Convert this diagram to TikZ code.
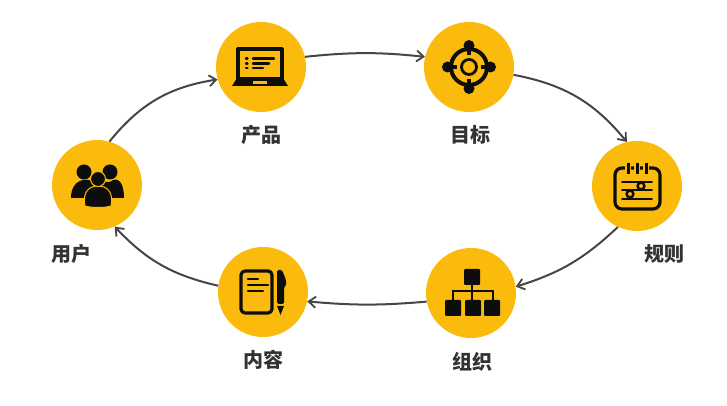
\documentclass[tikz,border=0pt]{standalone}
\usepackage{fontspec}
\newfontfamily\cjk{Noto Sans CJK SC}
\usepackage{xcolor}
\usetikzlibrary{arrows.meta}
\definecolor{discfill}{HTML}{FBBB0C}
\definecolor{inkline}{HTML}{454545}
\definecolor{labeltext}{HTML}{333333}
\definecolor{iconink}{HTML}{0D0D0D}

\begin{document}
\begin{tikzpicture}[
  x=1pt, y=1pt,
  disc/.style={circle, fill=discfill, minimum size=90pt, inner sep=0pt},
  lbl/.style={font=\cjk\bfseries\fontsize{20}{20}\selectfont, text=labeltext, inner sep=0pt},
  arr/.style={-{Straight Barb[length=7pt,width=11pt,line width=1.8pt]}, line width=2pt, draw=inkline},
  ink/.style={draw=iconink, line width=3.2pt, line cap=round, line join=round},
  stroke/.style={draw=iconink, line width=2.4pt, line cap=round},
  blk/.style={fill=iconink}
]
  \useasboundingbox (0,0) rectangle (727,406);

  % Discs, clockwise from the left
  \node[disc] (user) at (97,221) {};
  \node[disc] (product) at (261,339) {};
  \node[disc] (target) at (469,339) {};
  \node[disc] (rules) at (637,220) {};
  \node[disc] (org) at (471,113) {};
  \node[disc] (content) at (263,114) {};

  % Labels
  \node[lbl] (userlbl) at (71,152) {用户};
  \node[lbl] (productlbl) at (261,271) {产品};
  \node[lbl] (targetlbl) at (470,271) {目标};
  \node[lbl] (ruleslbl) at (664,152) {规则};
  \node[lbl] (orglbl) at (472,44) {组织};
  \node[lbl] (contentlbl) at (263,46) {内容};

  % Connectors
  \draw[arr] (user.74) to[bend left=21] (product.196);
  \draw[arr] (product.13) to[bend left=6] (target.167);
  \draw[arr] (target.-10) to[bend left=20] (rules.103);
  \draw[arr] (rules.245) to[bend left=13] (org.8);
  \draw[arr] (org.191) to[bend left=5] (content.-12);
  \draw[arr] (content.172) to[bend left=17] (user.-67);

  % Laptop
  \begin{scope}[shift={(product.center)}, yscale=-1]
    \draw[ink] (-23,-18) rectangle (21,12);
    \fill[blk] (-24,11) -- (22,11) -- (27,19) -- (-29,19) -- cycle;
    \fill[discfill] (-8,14.5) rectangle (6,17);
    \draw[stroke] (-15,-8.5) -- (-13.5,-8.5) (-8,-8.5) -- (13,-8.5);
    \draw[stroke] (-15,-3.5) -- (-13.5,-3.5) (-8,-3.5) -- (8,-3.5);
    \draw[stroke] (-15,1) -- (-13.5,1) (-8,1) -- (2,1);
  \end{scope}

  % Crosshair
  \begin{scope}[shift={(target.center)}, yscale=-1]
    \draw[draw=iconink, line width=4pt] (0,0) circle (18);
    \draw[draw=iconink, line width=2.8pt] (0,0) circle (7.5);
    \foreach \a in {0,90,180,270} {
      \fill[blk] (\a:21.5) circle (5.5);
      \draw[draw=iconink, line width=4.5pt] (\a:21) -- (\a:12);
    }
  \end{scope}

  % Calendar
  \begin{scope}[shift={(rules.center)}, yscale=-1]
    \draw[ink, rounded corners=7pt] (-22,-18) rectangle (23,23);
    \foreach \x in {-9,0,9} {
      \draw[draw=discfill, line width=6pt] (\x,-24) -- (\x,-12);
      \draw[draw=iconink, line width=3pt] (\x,-23) -- (\x,-12);
    }
    \draw[stroke, line width=1.8pt] (-15,-4) -- (15,-4);
    \draw[stroke, line width=1.8pt] (-15,4) -- (15,4);
    \draw[stroke, line width=1.8pt] (-15,13) -- (15,13);
    \draw[stroke, fill=discfill] (4,0) circle (3.4);
    \draw[stroke, fill=discfill] (-7,8) circle (3.4);
  \end{scope}

  % Hierarchy
  \begin{scope}[shift={(org.center)}, yscale=-1]
    \fill[blk, rounded corners=1pt] (-7,-24) rectangle (9,-8);
    \draw[stroke] (1,-8) -- (1,-2) (-18,8) -- (-18,-2) -- (22,-2) -- (22,8) (1,-2) -- (1,8);
    \foreach \x in {-26,-6,13} {
      \fill[blk, rounded corners=1pt] (\x,7) rectangle ++(16,16);
    }
  \end{scope}

  % Notepad and pen
  \begin{scope}[shift={(content.center)}, yscale=-1]
    \draw[ink, rounded corners=4pt] (-22,-21) rectangle (9,21);
    \draw[stroke] (-15,-13) -- (-5,-13);
    \draw[stroke] (-15,-7) -- (5,-7);
    \draw[stroke] (-15,-1) -- (0,-1);
    \fill[blk, rounded corners=1.5pt] (14,-22) -- (19,-22) -- (23,-12) -- (23,-6) -- (21,-6) -- (21,12) -- (14,12) -- cycle;
    \fill[blk] (14,14) -- (21,14) -- (17.5,23) -- cycle;
  \end{scope}

  % Group of people
  \begin{scope}[shift={(user.center)}, yscale=-1]
    \fill[blk] (-13,-13) circle (7.5);
    \fill[blk] (13,-13) circle (7.5);
    \fill[blk] (-26,13) .. controls (-26,-6) and (-10,-8) .. (-4,-3) -- (13,-3) .. controls (20,-9) and (27,-4) .. (27,13) -- cycle;
    \draw[draw=discfill, line width=1pt, fill=iconink] (-12,21) .. controls (-15,6) and (-7,1) .. (1,1) .. controls (9,1) and (17,6) .. (14,21) .. controls (8,23) and (-6,23) .. (-12,21) -- cycle;
    \draw[draw=discfill, line width=1pt, fill=iconink] (1,-6) circle (7.5);
  \end{scope}
\end{tikzpicture}
\end{document}
